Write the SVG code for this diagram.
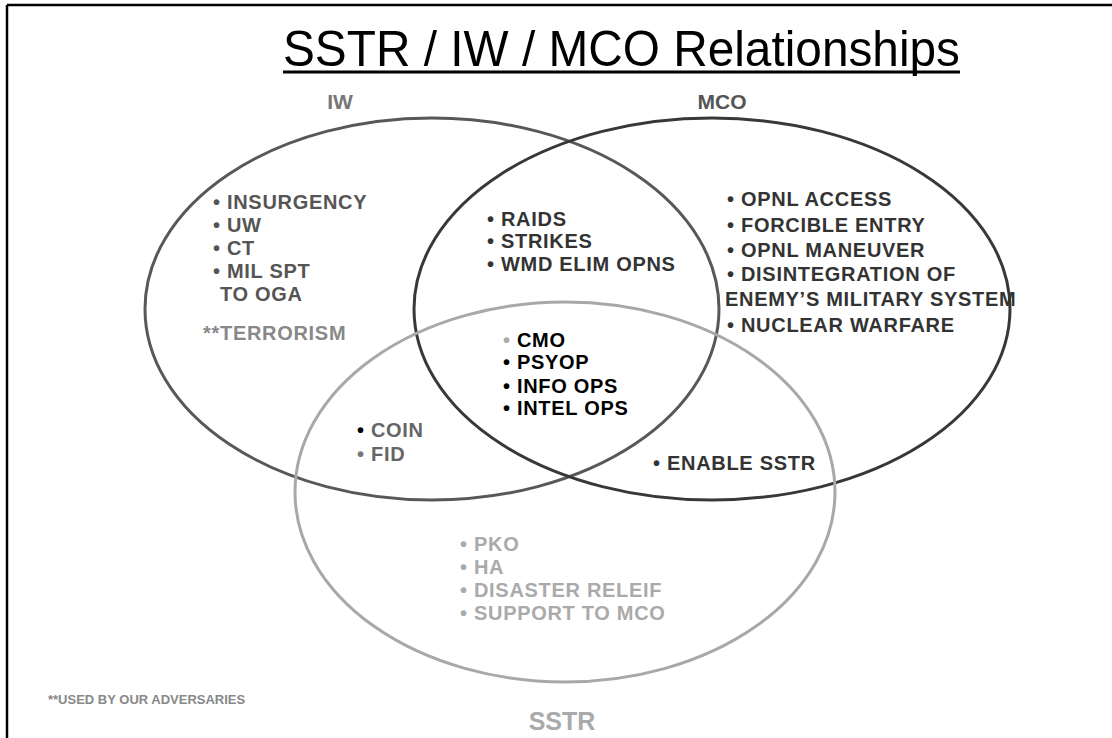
<svg xmlns="http://www.w3.org/2000/svg" width="1112" height="738" viewBox="0 0 1112 738">
<style>
  .t{font-family:"Liberation Sans",Arial,sans-serif;font-weight:bold;font-size:20px;letter-spacing:0.7px}
  .lbl{font-family:"Liberation Sans",Arial,sans-serif;font-weight:bold}
  .ell{fill:none;stroke-width:3}
</style>
<rect x="0" y="0" width="1112" height="738" fill="#fff"/>
<g id="frame">
  <line x1="7" y1="5" x2="1112" y2="5" stroke="#000" stroke-width="2.5"/>
  <line x1="7" y1="5" x2="7" y2="738" stroke="#000" stroke-width="2.5"/>
</g>
<g id="title">
  <text x="283" y="66" font-family="Liberation Sans,Arial,sans-serif" font-size="50" textLength="677" lengthAdjust="spacingAndGlyphs" fill="#000">SSTR / IW / MCO Relationships</text>
  <line x1="283" y1="72" x2="960" y2="72" stroke="#000" stroke-width="3"/>
</g>
<g id="connectors"></g>
<g id="node-iw">
  <ellipse class="ell" cx="432" cy="309" rx="287" ry="191" stroke="#585858"/>
  <text class="lbl" x="340" y="109" font-size="21" fill="#777" text-anchor="middle">IW</text>
  <g class="t" fill="#555">
    <text x="213" y="209">• INSURGENCY</text>
    <text x="213" y="232">• UW</text>
    <text x="213" y="255">• CT</text>
    <text x="213" y="278">• MIL SPT</text>
    <text x="220" y="301">TO OGA</text>
    <text x="203" y="340" fill="#888">**TERRORISM</text>
  </g>
</g>
<g id="node-mco">
  <ellipse class="ell" cx="712" cy="309" rx="298" ry="191" stroke="#383838"/>
  <text class="lbl" x="722" y="109" font-size="21" fill="#555" text-anchor="middle">MCO</text>
  <g class="t" fill="#333">
    <text x="727" y="206">• OPNL ACCESS</text>
    <text x="727" y="232">• FORCIBLE ENTRY</text>
    <text x="727" y="257">• OPNL MANEUVER</text>
    <text x="727" y="281">• DISINTEGRATION OF</text>
    <text x="725" y="306">ENEMY’S MILITARY SYSTEM</text>
    <text x="727" y="332">• NUCLEAR WARFARE</text>
  </g>
</g>
<g id="node-sstr">
  <ellipse class="ell" cx="565" cy="492" rx="270" ry="190" stroke="#a8a8a8"/>
  <text class="lbl" x="562" y="730" font-size="25" fill="#aaa" text-anchor="middle">SSTR</text>
  <g class="t" fill="#aaa">
    <text x="460" y="551">• PKO</text>
    <text x="460" y="574">• HA</text>
    <text x="460" y="597">• DISASTER RELEIF</text>
    <text x="460" y="620">• SUPPORT TO MCO</text>
  </g>
</g>
<g id="node-iw-mco">
  <g class="t" fill="#333">
    <text x="487" y="226">• RAIDS</text>
    <text x="487" y="248">• STRIKES</text>
    <text x="487" y="271">• WMD ELIM OPNS</text>
  </g>
</g>
<g id="node-all">
  <g class="t" fill="#000">
    <text x="503" y="347"><tspan fill="#aaa">•</tspan> CMO</text>
    <text x="503" y="369">• PSYOP</text>
    <text x="503" y="393">• INFO OPS</text>
    <text x="503" y="415">• INTEL OPS</text>
  </g>
</g>
<g id="node-iw-sstr">
  <g class="t" fill="#666">
    <text x="357" y="437"><tspan fill="#000">•</tspan> COIN</text>
    <text x="357" y="461"><tspan fill="#777">•</tspan> FID</text>
  </g>
</g>
<g id="node-mco-sstr">
  <text class="t" x="653" y="470" fill="#333">• ENABLE SSTR</text>
</g>
<g id="note">
  <text class="lbl" x="48" y="704" font-size="13" fill="#888">**USED BY OUR ADVERSARIES</text>
</g>
</svg>
